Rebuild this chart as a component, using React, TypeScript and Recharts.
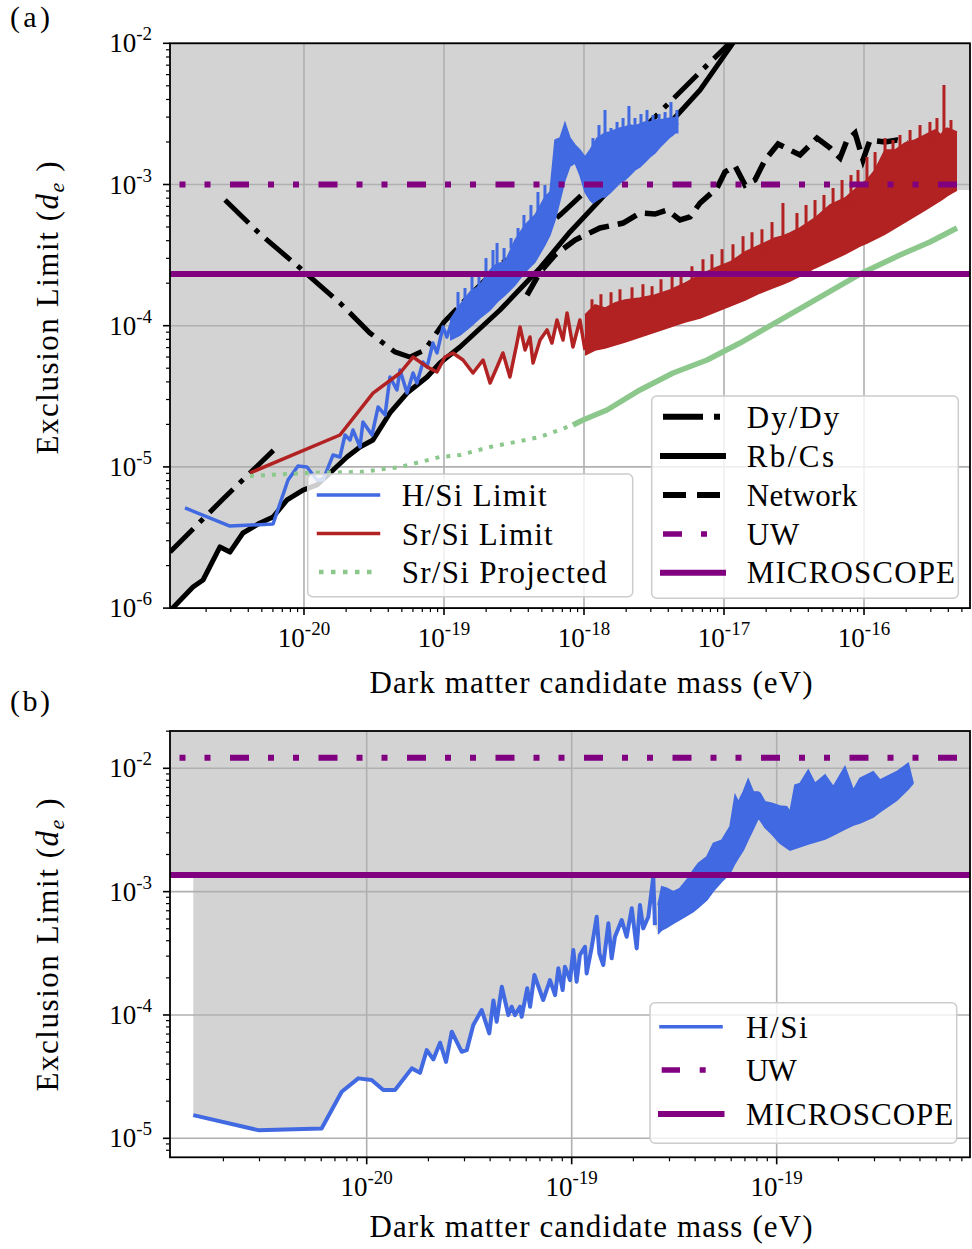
import React from "react";
import { ComposedChart, Line, Area, Scatter, ErrorBar, XAxis, YAxis, ReferenceLine } from "recharts";

const FONT = "'Liberation Serif', 'Times New Roman', serif";
const BLUE = "#4169e1";
const RED = "#b22222";
const PURPLE = "#800080";
const GREEN = "#8cc78c";
const FILL = "#d3d3d3";
const GRID = "#b0b0b0";

type P = [number, number];
type B = [number, number, number];

// ================= Panel (a): values are [log10(mass/eV), log10(limit)] =================
const dyDyLowA: P[] = [[-20.957, -5.603], [-20.571, -5.22], [-20.193, -4.859]];
const dyDyA: P[] = [
  [-20.564, -3.11], [-20.314, -3.351], [-20.029, -3.591], [-19.743, -3.839], [-19.529, -4.052],
  [-19.35, -4.186], [-19.243, -4.222], [-19.136, -4.172], [-19.0, -3.974], [-18.814, -3.783],
  [-18.6, -3.57], [-18.386, -3.393], [-18.171, -3.216], [-17.886, -2.954], [-17.529, -2.557],
  [-17.171, -2.203], [-16.921, -1.962],
];
const rbCsA: P[] = [
  [-20.957, -6.02], [-20.793, -5.851], [-20.721, -5.801], [-20.6, -5.567], [-20.529, -5.603],
  [-20.436, -5.468], [-20.314, -5.397], [-20.221, -5.355], [-20.121, -5.234], [-20.007, -5.164],
  [-19.907, -5.128], [-19.814, -5.043], [-19.693, -4.93], [-19.6, -4.859], [-19.507, -4.809],
  [-19.386, -4.618], [-19.264, -4.477], [-19.121, -4.363], [-19.029, -4.264], [-18.886, -4.151],
  [-18.6, -3.889], [-18.314, -3.591], [-18.1, -3.336], [-17.886, -3.11], [-17.529, -2.72],
  [-17.171, -2.331], [-16.921, -1.977],
];
const networkA: P[] = [
  [-18.407, -3.783], [-18.314, -3.62], [-18.207, -3.499], [-18.064, -3.393], [-17.886, -3.308],
  [-17.721, -3.273], [-17.6, -3.202], [-17.493, -3.209], [-17.407, -3.181], [-17.314, -3.251],
  [-17.243, -3.23], [-17.171, -3.131], [-17.05, -3.025], [-16.993, -2.911], [-16.921, -2.869],
  [-16.85, -3.004], [-16.779, -2.968], [-16.707, -2.826], [-16.614, -2.713], [-16.529, -2.756],
  [-16.457, -2.791], [-16.336, -2.671], [-16.243, -2.741], [-16.171, -2.812], [-16.121, -2.685],
  [-16.064, -2.635], [-16.007, -2.826], [-15.957, -2.685], [-15.85, -2.699], [-15.764, -2.685],
  [-15.693, -2.706],
];
const hSiA: P[] = [
  [-20.85, -5.291], [-20.529, -5.419], [-20.221, -5.404], [-20.114, -5.093], [-20.043, -4.994],
  [-19.979, -5.001], [-19.907, -5.093], [-19.864, -5.093], [-19.793, -4.916], [-19.743, -4.93],
  [-19.707, -4.774], [-19.671, -4.809], [-19.65, -4.739], [-19.6, -4.859], [-19.579, -4.682],
  [-19.514, -4.774], [-19.471, -4.576], [-19.421, -4.632], [-19.386, -4.363], [-19.336, -4.455],
  [-19.314, -4.314], [-19.264, -4.477], [-19.221, -4.335], [-19.193, -4.406], [-19.15, -4.257],
  [-19.121, -4.292], [-19.079, -4.123], [-19.05, -4.193], [-19.007, -4.009], [-18.979, -4.08],
  [-18.936, -3.945],
];
// dense, unresolved part of H/Si: [x, low edge, high edge]
const hSiBandA: B[] = [
  [-18.957, -4.101, -3.96], [-18.886, -4.066, -3.853], [-18.814, -4.009, -3.761], [-18.743, -3.945, -3.712],
  [-18.671, -3.889, -3.606], [-18.621, -3.832, -3.56], [-18.564, -3.783, -3.549], [-18.493, -3.712, -3.393],
  [-18.421, -3.62, -3.287], [-18.35, -3.549, -3.216], [-18.279, -3.428, -3.089], [-18.243, -3.358, -3.053],
  [-18.207, -3.251, -2.685], [-18.171, -3.11, -2.671], [-18.136, -2.968, -2.564], [-18.1, -2.869, -2.671],
  [-18.064, -2.848, -2.72], [-18.029, -2.933, -2.756], [-17.993, -3.053, -2.805], [-17.957, -3.11, -2.756],
  [-17.936, -3.131, -2.72], [-17.907, -3.11, -2.671], [-17.871, -3.089, -2.649], [-17.85, -3.089, -2.635],
  [-17.814, -3.06, -2.628], [-17.779, -3.025, -2.614], [-17.743, -2.989, -2.6], [-17.707, -2.968, -2.593],
  [-17.671, -2.933, -2.579], [-17.636, -2.897, -2.586], [-17.6, -2.876, -2.572], [-17.564, -2.841, -2.557],
  [-17.529, -2.805, -2.557], [-17.493, -2.777, -2.543], [-17.457, -2.734, -2.543], [-17.421, -2.699, -2.536],
  [-17.386, -2.664, -2.529], [-17.364, -2.649, -2.529], [-17.343, -2.628, -2.522], [-17.329, -2.614, -2.579],
];
// tips of the narrow spikes sticking out of the dense H/Si region
const hSiPeaksA: P[] = [
  [-18.9, -3.761], [-18.85, -3.733], [-18.8, -3.62], [-18.75, -3.641], [-18.7, -3.521],
  [-18.65, -3.464], [-18.621, -3.414], [-18.571, -3.45], [-18.521, -3.379], [-18.471, -3.308],
  [-18.429, -3.216], [-18.379, -3.145], [-18.329, -3.053], [-18.279, -3.004],
  [-17.936, -2.671], [-17.893, -2.579], [-17.85, -2.472], [-17.807, -2.6], [-17.764, -2.557],
  [-17.721, -2.529], [-17.679, -2.444], [-17.636, -2.529], [-17.593, -2.501], [-17.55, -2.472],
  [-17.507, -2.508], [-17.464, -2.501], [-17.421, -2.487], [-17.379, -2.416], [-17.336, -2.472],
];
const srSiA: P[] = [
  [-20.386, -5.043], [-19.743, -4.774], [-19.507, -4.477], [-19.314, -4.335], [-19.221, -4.222],
  [-19.121, -4.292], [-19.05, -4.328], [-18.993, -4.222], [-18.936, -4.193], [-18.864, -4.243],
  [-18.793, -4.335], [-18.721, -4.243], [-18.671, -4.406], [-18.621, -4.292], [-18.579, -4.193],
  [-18.529, -4.363], [-18.479, -4.123], [-18.457, -4.009], [-18.421, -4.172], [-18.386, -4.08],
  [-18.364, -4.264], [-18.314, -4.101], [-18.264, -4.03], [-18.229, -4.123], [-18.193, -3.96],
  [-18.15, -4.101], [-18.121, -3.91], [-18.079, -4.151], [-18.029, -3.96], [-17.993, -4.172],
];
const srSiBandA: B[] = [
  [-17.993, -4.208, -3.924], [-17.921, -4.172, -3.853], [-17.85, -4.158, -3.875], [-17.779, -4.137, -3.839],
  [-17.707, -4.115, -3.818], [-17.6, -4.08, -3.804], [-17.493, -4.045, -3.783], [-17.386, -4.009, -3.747],
  [-17.279, -3.974, -3.698], [-17.171, -3.945, -3.641], [-17.064, -3.903, -3.591], [-16.957, -3.86, -3.549],
  [-16.85, -3.818, -3.478], [-16.743, -3.768, -3.428], [-16.636, -3.726, -3.379], [-16.579, -3.705, -3.365],
  [-16.529, -3.684, -3.343], [-16.457, -3.648, -3.308], [-16.35, -3.591, -3.237], [-16.243, -3.542, -3.145],
  [-16.136, -3.492, -3.096], [-16.029, -3.436, -3.004], [-15.979, -3.414, -2.968], [-15.921, -3.386, -2.897],
  [-15.85, -3.351, -2.756], [-15.779, -3.308, -2.756], [-15.707, -3.266, -2.706], [-15.636, -3.223, -2.685],
  [-15.564, -3.181, -2.649], [-15.493, -3.138, -2.614], [-15.45, -3.11, -2.649], [-15.429, -3.096, -2.614],
  [-15.407, -3.081, -2.6], [-15.371, -3.06, -2.614], [-15.336, -3.039, -2.628],
];
const srSiPeaksA: P[] = [
  [-17.943, -3.813], [-17.879, -3.777], [-17.807, -3.763], [-17.743, -3.742], [-17.657, -3.728],
  [-17.579, -3.706], [-17.514, -3.72], [-17.45, -3.671], [-17.371, -3.636], [-17.307, -3.621],
  [-17.229, -3.579], [-17.15, -3.529], [-17.086, -3.494], [-17.014, -3.458], [-16.936, -3.423],
  [-16.864, -3.366], [-16.8, -3.338], [-16.729, -3.317], [-16.657, -3.266], [-16.579, -3.131],
  [-16.479, -3.202], [-16.414, -3.145], [-16.35, -3.11], [-16.286, -3.074], [-16.221, -3.025],
  [-16.157, -2.968], [-16.093, -2.933], [-16.043, -2.897], [-15.979, -2.805], [-15.921, -2.77],
  [-15.85, -2.671], [-15.793, -2.685], [-15.743, -2.649], [-15.671, -2.614], [-15.6, -2.579],
  [-15.529, -2.557], [-15.479, -2.529], [-15.429, -2.295], [-15.379, -2.543],
];
const srSiProjA: P[] = [
  [-20.386, -5.064], [-19.979, -5.043], [-19.6, -5.036], [-19.314, -5.001], [-19.029, -4.93],
  [-18.886, -4.916], [-18.671, -4.859], [-18.493, -4.824], [-18.314, -4.788], [-18.079, -4.703],
];
const srSiProjDenseA: P[] = [
  [-18.079, -4.703], [-18.007, -4.668], [-17.836, -4.597], [-17.6, -4.455], [-17.364, -4.335],
  [-17.121, -4.243], [-16.886, -4.123], [-16.6, -3.96], [-16.314, -3.797], [-16.029, -3.634],
  [-15.743, -3.499], [-15.529, -3.407], [-15.336, -3.308],
];
const uwA = -3;
const microscopeA = -3.634;

const xTicksA = [-20, -19, -18, -17, -16];
const xTickLabelsA = ["-20", "-19", "-18", "-17", "-16"];
const yTicksA = [-6, -5, -4, -3, -2];
const yTickLabelsA = ["-6", "-5", "-4", "-3", "-2"];

// ================= Panel (b) =================
const hSiB: P[] = [
  [-20.846, -4.812], [-20.529, -4.934], [-20.22, -4.92], [-20.122, -4.623], [-20.041, -4.514],
  [-19.976, -4.528], [-19.919, -4.609], [-19.862, -4.609], [-19.78, -4.433], [-19.74, -4.469],
  [-19.707, -4.285], [-19.675, -4.36], [-19.642, -4.225], [-19.613, -4.38], [-19.585, -4.136],
  [-19.537, -4.298], [-19.512, -4.285], [-19.48, -4.082], [-19.439, -3.96], [-19.402, -4.149],
  [-19.382, -3.882], [-19.366, -4.055], [-19.341, -3.771], [-19.309, -4.001], [-19.293, -3.933],
  [-19.277, -4.001], [-19.252, -3.933], [-19.244, -4.015], [-19.217, -3.784], [-19.203, -3.933],
  [-19.182, -3.676], [-19.139, -3.879], [-19.106, -3.717], [-19.081, -3.839], [-19.065, -3.622],
  [-19.044, -3.798], [-19.033, -3.609], [-19.008, -3.717], [-18.992, -3.474], [-18.976, -3.731],
  [-18.96, -3.514], [-18.935, -3.447], [-18.927, -3.663], [-18.902, -3.447], [-18.878, -3.204],
  [-18.865, -3.5], [-18.846, -3.595], [-18.821, -3.257], [-18.805, -3.541], [-18.789, -3.366],
  [-18.756, -3.23], [-18.732, -3.366], [-18.707, -3.135], [-18.683, -3.46], [-18.667, -3.109],
  [-18.651, -3.298], [-18.626, -3.204], [-18.602, -2.879], [-18.594, -3.271],
];
const hSiBandB: B[] = [
  [-18.579, -3.344, -3.109], [-18.561, -3.311, -2.96], [-18.537, -3.291, -2.973], [-18.504, -3.257, -3.001],
  [-18.472, -3.226, -2.973], [-18.439, -3.194, -2.906], [-18.407, -3.163, -2.825], [-18.382, -3.129, -2.77],
  [-18.341, -3.068, -2.717], [-18.309, -2.995, -2.608], [-18.268, -2.918, -2.582], [-18.228, -2.852, -2.474],
  [-18.203, -2.77, -2.217], [-18.187, -2.727, -2.271], [-18.163, -2.663, -2.19], [-18.139, -2.577, -2.089],
  [-18.114, -2.492, -2.19], [-18.09, -2.406, -2.192], [-18.081, -2.419, -2.203], [-18.057, -2.48, -2.271],
  [-18.024, -2.533, -2.284], [-17.984, -2.608, -2.306], [-17.951, -2.646, -2.311], [-17.935, -2.663, -2.352],
  [-17.911, -2.65, -2.135], [-17.886, -2.636, -2.122], [-17.846, -2.614, -2.014], [-17.813, -2.598, -2.122],
  [-17.764, -2.573, -2.054], [-17.724, -2.541, -2.149], [-17.667, -2.492, -1.987], [-17.626, -2.46, -2.176],
  [-17.594, -2.444, -2.081], [-17.529, -2.395, -2.028], [-17.496, -2.354, -2.095], [-17.415, -2.261, -2.028],
  [-17.358, -2.168, -1.959], [-17.334, -2.122, -2.122],
];
const uwB = -1.914;
const microscopeB = -2.865;

const xTicksB = [-20, -19, -18];
const xTickLabelsB = ["-20", "-19", "-19"];
const yTicksB = [-5, -4, -3, -2];
const yTickLabelsB = ["-5", "-4", "-3", "-2"];

// axis ranges (log10 units)
const xDomA: [number, number] = [-20.957, -15.243];
const yDomA: [number, number] = [-6, -2];
const xDomB: [number, number] = [-20.9595, -17.057];
const yDomB: [number, number] = [-5.154, -1.6975];

// ---------- helpers ----------
const pts = (a: P[]) => a.map(([x, y]) => ({ x, y }));
const band = (a: B[]) => a.map(([x, lo, hi]) => ({ x, r: [lo, hi] }));
// each spike: a vertical stroke from its tip down into the dense band (nearest band sample)
const spikes = (peaks: P[], b: B[]) =>
  peaks.map(([x, y]) => {
    const near = b.reduce((best, s) => (Math.abs(s[0] - x) < Math.abs(best[0] - x) ? s : best), b[0]);
    return { x, y, e: [Math.max(0, y - near[2]) + 0.06, 0] };
  });
const minorTicks = (d: [number, number]) => {
  const out: number[] = [];
  for (let n = Math.floor(d[0]); n <= Math.floor(d[1]); n++) {
    for (let k = 1; k <= 9; k++) {
      const v = n + Math.log10(k);
      if (v >= d[0] - 1e-9 && v <= d[1] + 1e-9) out.push(v);
    }
  }
  return out;
};

// excluded region of (a): above the lowest of Rb/Cs and Sr/Si
const crossA = -19.08;
const fillA = [
  ...rbCsA.filter((p) => p[0] < crossA).map(([x, y]) => ({ x, r: [y, yDomA[1]] })),
  ...srSiA.filter((p) => p[0] >= crossA && p[0] < srSiBandA[0][0]).map(([x, y]) => ({ x, r: [y, yDomA[1]] })),
  ...srSiBandA.map(([x, lo]) => ({ x, r: [lo, yDomA[1]] })),
  { x: xDomA[1], r: [srSiBandA[srSiBandA.length - 1][1], yDomA[1]] },
];
// excluded region of (b): above the lowest of H/Si and MICROSCOPE
const fillB = [
  { x: xDomB[0], r: [microscopeB, yDomB[1]] },
  { x: hSiB[0][0], r: [microscopeB, yDomB[1]] },
  ...hSiB.map(([x, y]) => ({ x, r: [Math.min(y, microscopeB), yDomB[1]] })),
  ...hSiBandB.map(([x, lo]) => ({ x, r: [Math.min(lo, microscopeB), yDomB[1]] })),
  { x: xDomB[1], r: [microscopeB, yDomB[1]] },
];

const isMajor = (majors: number[], v: number) => majors.findIndex((m) => Math.abs(m - v) < 1e-6);

const XTick = (props: any) => {
  const { x, y, payload, majors, labels } = props;
  const i = isMajor(majors, payload.value);
  const major = i >= 0;
  return (
    <g>
      <line x1={x} x2={x} y1={y} y2={y + (major ? 7 : 4)} stroke="#000" strokeWidth={major ? 1.6 : 1.2} />
      {major && (
        <text x={x} y={y + 39} textAnchor="middle" fontFamily={FONT} fontSize={27} fill="#000">
          10
          <tspan fontSize={19} dy={-12}>
            {labels[i]}
          </tspan>
        </text>
      )}
    </g>
  );
};

const YTick = (props: any) => {
  const { x, y, payload, majors, labels } = props;
  const i = isMajor(majors, payload.value);
  const major = i >= 0;
  return (
    <g>
      <line x1={x - (major ? 7 : 4)} x2={x} y1={y} y2={y} stroke="#000" strokeWidth={major ? 1.6 : 1.2} />
      {major && (
        <text x={x - 18} y={y + 9} textAnchor="end" fontFamily={FONT} fontSize={27} fill="#000">
          10
          <tspan fontSize={19} dy={-12}>
            {labels[i]}
          </tspan>
        </text>
      )}
    </g>
  );
};

const lineBase = { dot: false, activeDot: false, isAnimationActive: false, type: "linear" as const, dataKey: "y" };
const areaBase = { dot: false, activeDot: false, isAnimationActive: false, type: "linear" as const, dataKey: "r" };
const noShape = () => <g />;

function PanelA() {
  return (
    <ComposedChart width={972} height={660} margin={{ top: 43.3, right: 2, bottom: 11.9, left: 110 }}>
      <XAxis
        type="number" dataKey="x" domain={xDomA} allowDataOverflow ticks={minorTicks(xDomA)} interval={0}
        tickSize={0} tickMargin={0} tickLine={false} axisLine={false} height={40}
        tick={(p: any) => <XTick {...p} majors={xTicksA} labels={xTickLabelsA} />}
      />
      <YAxis
        type="number" dataKey="y" domain={yDomA} allowDataOverflow ticks={minorTicks(yDomA)} interval={0}
        tickSize={0} tickMargin={0} tickLine={false} axisLine={false} width={60}
        tick={(p: any) => <YTick {...p} majors={yTicksA} labels={yTickLabelsA} />}
      />
      <Area {...areaBase} data={fillA} fill={FILL} fillOpacity={1} stroke="none" zIndex={10} />
      {xTicksA.map((v) => (
        <ReferenceLine key={"gx" + v} x={v} stroke={GRID} strokeWidth={1.6} zIndex={20} />
      ))}
      {yTicksA.map((v) => (
        <ReferenceLine key={"gy" + v} y={v} stroke={GRID} strokeWidth={1.6} zIndex={20} />
      ))}
      <Line {...lineBase} data={pts(dyDyLowA)} stroke="#000" strokeWidth={5} strokeDasharray="33 9 5 9" zIndex={30} />
      <Line {...lineBase} data={pts(dyDyA)} stroke="#000" strokeWidth={5} strokeDasharray="33 9 5 9" zIndex={31} />
      <Line {...lineBase} data={pts(rbCsA)} stroke="#000" strokeWidth={5} strokeLinejoin="round" zIndex={32} />
      <Line {...lineBase} data={pts(networkA)} stroke="#000" strokeWidth={5.5} strokeDasharray="21 9" zIndex={33} />
      <Area {...areaBase} data={band(hSiBandA)} fill={BLUE} fillOpacity={1} stroke={BLUE} strokeWidth={1.5} zIndex={34} />
      <Scatter data={spikes(hSiPeaksA, hSiBandA)} shape={noShape} isAnimationActive={false} zIndex={35}>
        <ErrorBar dataKey="e" direction="y" width={0} stroke={BLUE} strokeWidth={3} zIndex={35} />
      </Scatter>
      <Line {...lineBase} data={pts(hSiA)} stroke={BLUE} strokeWidth={3.5} strokeLinejoin="round" zIndex={35} />
      <Line {...lineBase} data={pts(srSiA)} stroke={RED} strokeWidth={3.5} strokeLinejoin="round" zIndex={36} />
      <Area {...areaBase} data={band(srSiBandA)} fill={RED} fillOpacity={1} stroke={RED} strokeWidth={1.5} zIndex={37} />
      <Scatter data={spikes(srSiPeaksA, srSiBandA)} shape={noShape} isAnimationActive={false} zIndex={37}>
        <ErrorBar dataKey="e" direction="y" width={0} stroke={RED} strokeWidth={3} zIndex={37} />
      </Scatter>
      <Line {...lineBase} data={pts(srSiProjA)} stroke={GREEN} strokeWidth={4} strokeDasharray="4 7" zIndex={38} />
      <Line {...lineBase} data={pts(srSiProjDenseA)} stroke={GREEN} strokeWidth={5.5} strokeLinejoin="round" zIndex={39} />
      <ReferenceLine y={uwA} stroke={PURPLE} strokeWidth={6} strokeDasharray="19 19 6 19 6 19.5" strokeDashoffset={28.5} zIndex={40} />
      <ReferenceLine y={microscopeA} stroke={PURPLE} strokeWidth={6} zIndex={41} />
    </ComposedChart>
  );
}

function PanelB() {
  return (
    <ComposedChart width={972} height={569} margin={{ top: 51, right: 2, bottom: 51.7, left: 110 }}>
      <XAxis
        type="number" dataKey="x" domain={xDomB} allowDataOverflow ticks={minorTicks(xDomB)} interval={0}
        tickSize={0} tickMargin={0} tickLine={false} axisLine={false} height={40}
        tick={(p: any) => <XTick {...p} majors={xTicksB} labels={xTickLabelsB} />}
      />
      <YAxis
        type="number" dataKey="y" domain={yDomB} allowDataOverflow ticks={minorTicks(yDomB)} interval={0}
        tickSize={0} tickMargin={0} tickLine={false} axisLine={false} width={60}
        tick={(p: any) => <YTick {...p} majors={yTicksB} labels={yTickLabelsB} />}
      />
      <Area {...areaBase} data={fillB} fill={FILL} fillOpacity={1} stroke="none" zIndex={10} />
      {xTicksB.map((v) => (
        <ReferenceLine key={"gx" + v} x={v} stroke={GRID} strokeWidth={1.6} zIndex={20} />
      ))}
      {yTicksB.map((v) => (
        <ReferenceLine key={"gy" + v} y={v} stroke={GRID} strokeWidth={1.6} zIndex={20} />
      ))}
      <Area {...areaBase} data={band(hSiBandB)} fill={BLUE} fillOpacity={1} stroke={BLUE} strokeWidth={1.5} zIndex={34} />
      <Line {...lineBase} data={pts(hSiB)} stroke={BLUE} strokeWidth={4} strokeLinejoin="round" zIndex={35} />
      <ReferenceLine y={uwB} stroke={PURPLE} strokeWidth={6} strokeDasharray="19 19 6 19 6 19.5" strokeDashoffset={28.5} zIndex={40} />
      <ReferenceLine y={microscopeB} stroke={PURPLE} strokeWidth={6} zIndex={41} />
    </ComposedChart>
  );
}

const T = (p: any) => <text fontFamily={FONT} fill="#000" {...p} />;

function LegendSample({ y, x1, x2, stroke, w, dash, cap }: any) {
  return <line x1={x1} x2={x2} y1={y} y2={y} stroke={stroke} strokeWidth={w} strokeDasharray={dash} strokeLinecap={cap || "butt"} />;
}

function YLabel({ cy }: { cy: number }) {
  return (
    <T x={0} y={0} transform={`translate(58, ${cy}) rotate(-90)`} fontSize={31} textAnchor="middle" textLength={293} lengthAdjust="spacing">
      Exclusion Limit (<tspan fontStyle="italic">d</tspan>
      <tspan fontStyle="italic" fontSize={22} dy={6}>e</tspan>
      <tspan dy={-6}>{"\u00a0)"}</tspan>
    </T>
  );
}

function Overlay() {
  return (
    <svg width={972} height={1249} style={{ position: "absolute", left: 0, top: 0, pointerEvents: "none" }}>
      {/* frames */}
      <rect x={170} y={43.3} width={800} height={564.8} fill="none" stroke="#000" strokeWidth={1.8} />
      <rect x={170} y={731} width={800} height={426.3} fill="none" stroke="#000" strokeWidth={1.8} />

      {/* legend (a) left */}
      <rect x={307.7} y={474} width={325} height={122.7} rx={5} fill="#fff" fillOpacity={0.8} stroke="#cccccc" strokeWidth={1.5} />
      <LegendSample y={495} x1={318.5} x2={378.5} stroke={BLUE} w={3.5} cap="square" />
      <LegendSample y={533.5} x1={318.5} x2={378.5} stroke={RED} w={3.5} cap="square" />
      <LegendSample y={572} x1={319} x2={379} stroke={GREEN} w={4.5} dash="4.5 7.5" />
      <T x={401.7} y={506} fontSize={31} textLength={145} lengthAdjust="spacing">H/Si Limit</T>
      <T x={401.7} y={544.5} fontSize={31} textLength={151} lengthAdjust="spacing">Sr/Si Limit</T>
      <T x={401.7} y={583} fontSize={31} textLength={205} lengthAdjust="spacing">Sr/Si Projected</T>

      {/* legend (a) right */}
      <rect x={651.7} y={396} width={306.6} height={202.3} rx={5} fill="#fff" fillOpacity={0.8} stroke="#cccccc" strokeWidth={1.5} />
      <LegendSample y={416.7} x1={663} x2={723} stroke="#000" w={6} dash="40 11 6 11" />
      <LegendSample y={456} x1={663} x2={723} stroke="#000" w={6} cap="square" />
      <LegendSample y={495} x1={663} x2={723} stroke="#000" w={6} dash="23 11" />
      <LegendSample y={534} x1={663} x2={723} stroke={PURPLE} w={5.5} dash="19 19 6 19" />
      <LegendSample y={572.7} x1={663} x2={723} stroke={PURPLE} w={6} cap="square" />
      <T x={746.7} y={427.5} fontSize={31} textLength={92.6} lengthAdjust="spacing">Dy/Dy</T>
      <T x={746.7} y={466.8} fontSize={31} textLength={87.3} lengthAdjust="spacing">Rb/Cs</T>
      <T x={746.7} y={505.8} fontSize={31} textLength={110.6} lengthAdjust="spacing">Network</T>
      <T x={746.7} y={544.8} fontSize={31} textLength={52.6} lengthAdjust="spacing">UW</T>
      <T x={746.7} y={583.3} fontSize={31} textLength={208.3} lengthAdjust="spacing">MICROSCOPE</T>

      {/* legend (b) */}
      <rect x={650} y={1002.7} width={306.7} height={140.6} rx={5} fill="#fff" fillOpacity={0.8} stroke="#cccccc" strokeWidth={1.5} />
      <LegendSample y={1026.7} x1={661} x2={721} stroke={BLUE} w={3.5} cap="square" />
      <LegendSample y={1070} x1={661.7} x2={721.7} stroke={PURPLE} w={5.5} dash="18.3 19.7 6 19" />
      <LegendSample y={1114} x1={661} x2={721.5} stroke={PURPLE} w={6} cap="square" />
      <T x={746} y={1037.7} fontSize={31} textLength={61.7} lengthAdjust="spacing">H/Si</T>
      <T x={746} y={1081} fontSize={31} textLength={50.7} lengthAdjust="spacing">UW</T>
      <T x={746} y={1125} fontSize={31} textLength={207.3} lengthAdjust="spacing">MICROSCOPE</T>

      {/* axis titles */}
      <T x={591} y={693} fontSize={31} textAnchor="middle" textLength={443} lengthAdjust="spacing">Dark matter candidate mass (eV)</T>
      <T x={591} y={1237} fontSize={31} textAnchor="middle" textLength={443} lengthAdjust="spacing">Dark matter candidate mass (eV)</T>
      <YLabel cy={308} />
      <YLabel cy={945} />

      {/* panel labels */}
      <T x={10} y={27} fontSize={30} textLength={40} lengthAdjust="spacing">(a)</T>
      <T x={10} y={711} fontSize={30} textLength={40} lengthAdjust="spacing">(b)</T>
    </svg>
  );
}

export default function App() {
  return (
    <div style={{ position: "absolute", left: 0, top: 0, width: 972, height: 1249, background: "#fff", fontFamily: FONT }}>
      <div style={{ position: "absolute", left: 0, top: 0 }}>
        <PanelA />
      </div>
      <div style={{ position: "absolute", left: 0, top: 680 }}>
        <PanelB />
      </div>
      <Overlay />
    </div>
  );
}
